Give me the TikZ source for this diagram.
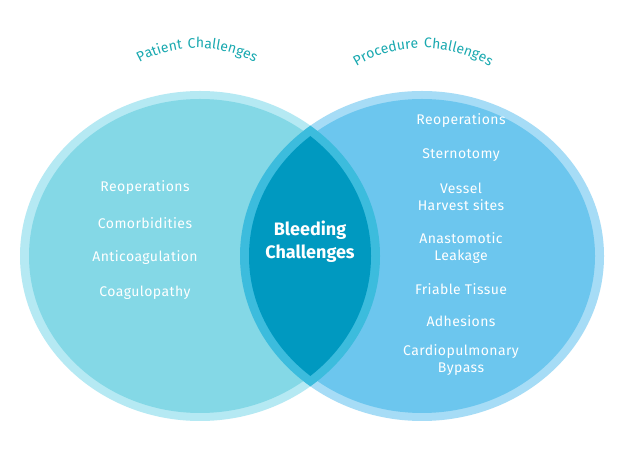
\documentclass[tikz,border=0pt]{standalone}
\usepackage{fontspec}
\setmainfont{Fira Sans}[LetterSpace=4]
\usetikzlibrary{decorations.text}
\definecolor{lring}{HTML}{B5E9F3}
\definecolor{lfill}{HTML}{84D8E6}
\definecolor{rring}{HTML}{A6DCF6}
\definecolor{rfill}{HTML}{6CC6EE}
\definecolor{mring}{HTML}{3CBCDD}
\definecolor{mfill}{HTML}{0099C0}
\definecolor{ttl}{HTML}{19A9B0}
\begin{document}
\begin{tikzpicture}[x=1pt,y=1pt,
  item/.style={text=white,font=\fontsize{14}{17}\selectfont\addfontfeature{LetterSpace=3},align=center},
  ttl/.style={decorate,decoration={text along path,text align=center,text={|\color{ttl}\fontsize{14}{16}\selectfont\addfontfeature{LetterSpace=12}|#1}}}]
\useasboundingbox[fill=white] (0,0) rectangle (620,465);
\coordinate (L) at (200,209);
\coordinate (R) at (422,209);
\fill[lring] (L) ellipse [x radius=180,y radius=165];
\fill[rring] (R) ellipse [x radius=182,y radius=165];
\fill[lfill] (L) ellipse [x radius=171,y radius=157];
\fill[rfill] (R) ellipse [x radius=173,y radius=157];
\begin{scope}
\clip (L) ellipse [x radius=180,y radius=165];
\fill[mring] (R) ellipse [x radius=182,y radius=165];
\end{scope}
\begin{scope}
\clip (L) ellipse [x radius=171,y radius=157];
\fill[mfill] (R) ellipse [x radius=173,y radius=157];
\end{scope}
\coordinate (TL) at (197,297);
\coordinate (TR) at (423,287);
\path[ttl={Patient Challenges}] ([shift={(135:120)}]TL) arc [start angle=135,end angle=45,radius=120];
\path[ttl={Procedure Challenges}] ([shift={(135:130)}]TR) arc [start angle=135,end angle=45,radius=130];
\node[item] (p1) at (145,277) {Reoperations};
\node[item] (p2) at (145,242) {Comorbidities};
\node[item] (p3) at (145,207) {Anticoagulation};
\node[item] (p4) at (145,172) {Coagulopathy};
\node[item,font=\bfseries\fontsize{18}{23}\selectfont\addfontfeature{LetterSpace=0}] (c) at (310,223) {Bleeding\\Challenges};
\node[item] (q1) at (461,344) {Reoperations};
\node[item] (q2) at (461,310) {Sternotomy};
\node[item] (q3) at (461,268) {Vessel\\Harvest sites};
\node[item] (q4) at (461,217) {Anastomotic\\Leakage};
\node[item] (q5) at (461,176) {Friable Tissue};
\node[item] (q6) at (461,144) {Adhesions};
\node[item] (q7) at (461,105) {Cardiopulmonary\\Bypass};
\end{tikzpicture}
\end{document}
